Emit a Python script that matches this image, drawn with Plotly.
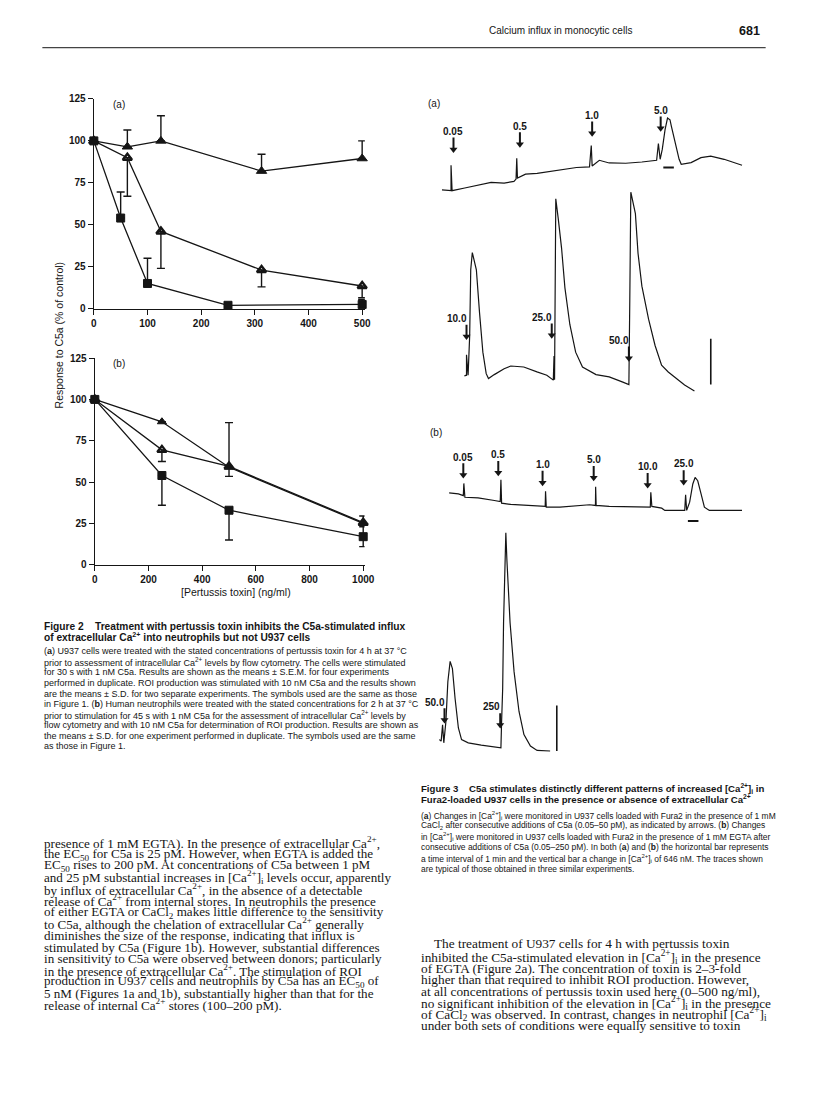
import plotly.graph_objects as go

W, H = 816, 1093
INK = "#151515"
SANS = "Liberation Sans, Arial, sans-serif"
SERIF = "Liberation Serif, Times New Roman, serif"

# ---- Figure 2 (a): U937 cells, pertussis toxin (ng/ml) vs response (% of control)
a_x_tri = [0, 62.5, 125, 312.5, 500]
a_cacl2 = [100, 96.5, 100, 82, 89.5]
a_cacl2_up = [0, 10, 15, 10, 10.5]
a_egta = [100, 90, 46, 23, 13.5]
a_egta_down = [0, 23, 22, 10, 7]
a_x_sq = [0, 50, 100, 250, 500]
a_roi = [100, 54, 15, 2, 2.5]
a_roi_up = [0, 15.5, 15, 0, 3]

# ---- Figure 2 (b): neutrophils
b_x = [0, 250, 500, 1000]
b_cacl2 = [100, 86.5, 59, 25]
b_cacl2_up = [0, 0, 27, 4.5]
b_egta = [100, 69.5, 59.5, 25.5]
b_egta_down = [0, 7, 6, 0]
b_roi = [100, 54, 33, 17]
b_roi_up = [0, 0, 0, 6]
b_roi_down = [0, 18, 18, 6]

# ---- Figure 3 traces: time (s) vs change in [Ca2+]i (nM)
a1_t = [0, 52, 52, 58, 130, 206, 280, 354, 410, 422, 426, 430, 476, 542, 616, 690, 766, 840, 850, 855,
        896, 952, 1046, 1138, 1222, 1232, 1242, 1254, 1270, 1284, 1298, 1306, 1322, 1334, 1350, 1362,
        1418, 1474, 1530, 1606, 1662, 1708]
a1_c = [56, 46, 406, 46, 84, 130, 164, 154, 178, 210, 504, 224, 280, 290, 318, 350, 374, 382, 686, 396,
        476, 438, 434, 452, 476, 714, 490, 630, 910, 1074, 1050, 956, 798, 654, 490, 420,
        444, 514, 536, 490, 444, 406]
a1_add_t = [66, 444, 855, 1245]
a1_add_tip = [588, 662, 816, 886]
a1_add_lbl = ["0.05", "0.5", "1.0", "5.0"]

a2_t = [0, 13, 13, 22, 31, 37, 46, 59, 69, 87, 106, 125, 138, 171, 227, 265, 339, 414, 470, 507,
        511, 514, 517, 521, 535, 554, 573, 601, 634, 673, 750, 825, 899, 937, 942, 948, 974, 989,
        1011, 1049, 1086, 1123, 1161, 1198, 1254, 1310]
a2_c = [252, 262, 550, 262, 822, 1754, 1998, 1872, 1754, 1148, 588, 284, 214, 270, 354, 392, 378, 308, 262, 192,
        532, 196, 1288, 2758, 2478, 2058, 1498, 980, 588, 378, 270, 238, 168, 130, 1288, 2852, 2548, 1988,
        1522, 1054, 682, 402, 308, 238, 122, 38]
a2_add_t = [13, 498, 937]
a2_add_tip = [766, 784, 458]
a2_add_lbl = ["10.0", "25.0", "50.0"]

b1_t = [0, 53, 81, 84, 90, 165, 258, 291, 295, 299, 351, 445, 547, 549, 553, 631, 725, 799, 833, 834,
        837, 911, 1005, 1098, 1145, 1148, 1154, 1210, 1228, 1285, 1341, 1346, 1352, 1369, 1387, 1400,
        1415, 1434, 1453, 1481, 1565, 1667]
b1_c = [318, 304, 280, 452, 256, 248, 210, 196, 504, 172, 154, 140, 126, 340, 116, 116, 130, 150, 140, 406,
        140, 126, 126, 126, 116, 326, 126, 102, 70, 70, 70, 290, 70, 186, 444, 536,
        490, 304, 116, 70, 70, 70]
b1_add_t = [81, 280, 532, 823, 1130, 1335]
b1_add_tip = [528, 560, 420, 490, 388, 430]
b1_add_lbl = ["0.05", "0.5", "1.0", "5.0", "10.0", "25.0"]

b2_t = [0, 11, 19, 26, 38, 49, 62, 75, 90, 109, 127, 165, 239, 314, 351, 355, 361, 366, 371, 379,
        385, 398, 403, 426, 454, 482, 519, 557, 631]
b2_c = [228, 206, 438, 182, 486, 1046, 1334, 1232, 812, 392, 228, 182, 150, 122, 112, 486, 952, 1886, 2492, 3154,
        2772, 2072, 1886, 1186, 626, 298, 136, 74, 66]
b2_add_t = [30, 347]
b2_add_tip = [462, 392]
b2_add_lbl = ["50.0", "250"]

# scale bars: 1 min horizontal, 646 nM vertical
a1_tbar = [1260, 1320]
a1_tbar_c = [374, 374]
a2_cbar_t = [1403, 1403]
a2_cbar = [130, 776]
b1_tbar = [1359, 1419]
b1_tbar_c = [-80, -80]
b2_cbar_t = [669, 669]
b2_cbar = [66, 712]

# ---- page text
header = "Calcium influx in monocytic cells"
page_no = "681"

fig2_head = [
    "<b>Figure 2</b>    <b>Treatment with pertussis toxin inhibits the C5a-stimulated influx</b>",
    "<b>of extracellular Ca<sup>2+</sup> into neutrophils but not U937 cells</b>",
]
fig2_cap = [
    "(<b>a</b>) U937 cells were treated with the stated concentrations of pertussis toxin for 4 h at 37 °C",
    "prior to assessment of intracellular Ca<sup>2+</sup> levels by flow cytometry. The cells were stimulated",
    "for 30 s with 1 nM C5a. Results are shown as the means ± S.E.M. for four experiments",
    "performed in duplicate. ROI production was stimulated with 10 nM C5a and the results shown",
    "are the means ± S.D. for two separate experiments. The symbols used are the same as those",
    "in Figure 1. (<b>b</b>) Human neutrophils were treated with the stated concentrations for 2 h at 37 °C",
    "prior to stimulation for 45 s with 1 nM C5a for the assessment of intracellular Ca<sup>2+</sup> levels by",
    "flow cytometry and with 10 nM C5a for determination of ROI production. Results are shown as",
    "the means ± S.D. for one experiment performed in duplicate. The symbols used are the same",
    "as those in Figure 1.",
]
body_left = [
    "presence of 1 mM EGTA). In the presence of extracellular Ca<sup>2+</sup>,",
    "the EC<sub>50</sub> for C5a is 25 pM. However, when EGTA is added the",
    "EC<sub>50</sub> rises to 200 pM. At concentrations of C5a between 1 pM",
    "and 25 pM substantial increases in [Ca<sup>2+</sup>]<sub>i</sub> levels occur, apparently",
    "by influx of extracellular Ca<sup>2+</sup>, in the absence of a detectable",
    "release of Ca<sup>2+</sup> from internal stores. In neutrophils the presence",
    "of either EGTA or CaCl<sub>2</sub> makes little difference to the sensitivity",
    "to C5a, although the chelation of extracellular Ca<sup>2+</sup> generally",
    "diminishes the size of the response, indicating that influx is",
    "stimulated by C5a (Figure 1b). However, substantial differences",
    "in sensitivity to C5a were observed between donors; particularly",
    "in the presence of extracellular Ca<sup>2+</sup>. The stimulation of ROI",
    "production in U937 cells and neutrophils by C5a has an EC<sub>50</sub> of",
    "5 nM (Figures 1a and 1b), substantially higher than that for the",
    "release of internal Ca<sup>2+</sup> stores (100–200 pM).",
]
fig3_head = [
    "<b>Figure 3</b>    <b>C5a stimulates distinctly different patterns of increased [Ca<sup>2+</sup>]<sub>i</sub> in</b>",
    "<b>Fura2-loaded U937 cells in the presence or absence of extracellular Ca<sup>2+</sup></b>",
]
fig3_cap = [
    "(<b>a</b>) Changes in [Ca<sup>2+</sup>]<sub>i</sub> were monitored in U937 cells loaded with Fura2 in the presence of 1 mM",
    "CaCl<sub>2</sub> after consecutive additions of C5a (0.05–50 pM), as indicated by arrows. (<b>b</b>) Changes",
    "in [Ca<sup>2+</sup>]<sub>i</sub> were monitored in U937 cells loaded with Fura2 in the presence of 1 mM EGTA after",
    "consecutive additions of C5a (0.05–250 pM). In both (<b>a</b>) and (<b>b</b>) the horizontal bar represents",
    "a time interval of 1 min and the vertical bar a change in [Ca<sup>2+</sup>]<sub>i</sub> of 646 nM. The traces shown",
    "are typical of those obtained in three similar experiments.",
]
body_right = [
    "The treatment of U937 cells for 4 h with pertussis toxin",
    "inhibited the C5a-stimulated elevation in [Ca<sup>2+</sup>]<sub>i</sub> in the presence",
    "of EGTA (Figure 2a). The concentration of toxin is 2–3-fold",
    "higher than that required to inhibit ROI production. However,",
    "at all concentrations of pertussis toxin used here (0–500 ng/ml),",
    "no significant inhibition of the elevation in [Ca<sup>2+</sup>]<sub>i</sub> in the presence",
    "of CaCl<sub>2</sub> was observed. In contrast, changes in neutrophil [Ca<sup>2+</sup>]<sub>i</sub>",
    "under both sets of conditions were equally sensitive to toxin",
]


def px(x):
    return x / W


def py(y):
    return 1 - y / H


def series(x, y, xa, ya, symbol, size, up=None, down=None, mlw=1):
    err = None
    if up or down:
        err = dict(type="data", symmetric=False,
                   array=up or [0] * len(y), arrayminus=down or [0] * len(y),
                   color=INK, thickness=1.4, width=4)
    return go.Scatter(x=x, y=y, xaxis=xa, yaxis=ya, mode="lines+markers",
                      line=dict(color=INK, width=1.3),
                      marker=dict(symbol=symbol, size=size, color=INK, line=dict(color=INK, width=mlw)),
                      error_y=err, cliponaxis=False, showlegend=False, hoverinfo="skip")


def ca_line(t, c, xa, ya, w=1.2):
    return go.Scatter(x=t, y=c, xaxis=xa, yaxis=ya, mode="lines",
                      line=dict(color=INK, width=w), cliponaxis=False,
                      showlegend=False, hoverinfo="skip")


NM_PER_PX = 14
S_PER_PX = 5.6


def addition_arrows(ts, tips, xa, ya):
    # shaft + head for each C5a addition, in the trace's own units
    sx, sy = [], []
    for t, tip in zip(ts, tips):
        sx += [t, t, None]
        sy += [tip + 15 * NM_PER_PX, tip + 4 * NM_PER_PX, None]
    shaft = go.Scatter(x=sx, y=sy, xaxis=xa, yaxis=ya, mode="lines",
                       line=dict(color=INK, width=2), cliponaxis=False,
                       showlegend=False, hoverinfo="skip")
    head = go.Scatter(x=ts, y=[tip + 3 * NM_PER_PX for tip in tips], xaxis=xa, yaxis=ya, mode="markers",
                      marker=dict(symbol="triangle-down", size=7, color=INK, line=dict(width=0)),
                      cliponaxis=False, showlegend=False, hoverinfo="skip")
    return [shaft, head]


fig = go.Figure()

# Figure 2 panels
fig.add_trace(series(a_x_tri, a_cacl2, "x", "y", "triangle-up", 9, up=a_cacl2_up))
fig.add_trace(series(a_x_tri, a_egta, "x", "y", "triangle-up-open", 8, down=a_egta_down, mlw=2.4))
fig.add_trace(series(a_x_sq, a_roi, "x", "y", "square", 8, up=a_roi_up))
fig.add_trace(series(b_x, b_cacl2, "x2", "y2", "triangle-up", 8, up=b_cacl2_up))
fig.add_trace(series(b_x, b_egta, "x2", "y2", "triangle-up-open", 8, down=b_egta_down, mlw=2.4))
fig.add_trace(series(b_x, b_roi, "x2", "y2", "square", 8, up=b_roi_up, down=b_roi_down))

# Figure 3 traces
fig.add_trace(ca_line(a1_t, a1_c, "x3", "y3"))
fig.add_trace(ca_line(a2_t, a2_c, "x4", "y4"))
fig.add_trace(ca_line(b1_t, b1_c, "x5", "y5"))
fig.add_trace(ca_line(b2_t, b2_c, "x6", "y6"))
fig.add_trace(ca_line(a1_tbar, a1_tbar_c, "x3", "y3", 2))
fig.add_trace(ca_line(a2_cbar_t, a2_cbar, "x4", "y4", 1.6))
fig.add_trace(ca_line(b1_tbar, b1_tbar_c, "x5", "y5", 2))
fig.add_trace(ca_line(b2_cbar_t, b2_cbar, "x6", "y6", 1.6))
fig.add_traces(addition_arrows(a1_add_t, a1_add_tip, "x3", "y3"))
fig.add_traces(addition_arrows(a2_add_t, a2_add_tip, "x4", "y4"))
fig.add_traces(addition_arrows(b1_add_t, b1_add_tip, "x5", "y5"))
fig.add_traces(addition_arrows(b2_add_t, b2_add_tip, "x6", "y6"))

axis_base = dict(showline=True, linecolor=INK, linewidth=1.4, ticks="outside", ticklen=5,
                 tickwidth=1.3, tickcolor=INK, showgrid=False, zeroline=False,
                 tickfont=dict(family=SANS, size=10, color=INK, weight="bold"))

layout = dict(
    width=W, height=H, margin=dict(l=0, r=0, t=0, b=0), autosize=False,
    paper_bgcolor="white", plot_bgcolor="rgba(0,0,0,0)", showlegend=False,
    xaxis=dict(axis_base, domain=[px(92.3), px(367.7)], range=[0, 505],
               tickvals=[0, 100, 200, 300, 400, 500], anchor="y"),
    yaxis=dict(axis_base, domain=[py(306), py(94)], range=[0, 125],
               tickvals=[0, 25, 50, 75, 100, 125], anchor="x"),
    xaxis2=dict(axis_base, domain=[px(93.3), px(367.4)], range=[0, 1005],
                tickvals=[0, 200, 400, 600, 800, 1000], anchor="y2"),
    yaxis2=dict(axis_base, domain=[py(565), py(356)], range=[0, 125],
                tickvals=[0, 25, 50, 75, 100, 125], anchor="x2"),
)

# invisible axes for the Fura2 traces (left edge, top, bottom, baseline row in page pixels)
trace_boxes = {3: (446, 100, 195, 190), 4: (468.7, 180, 395, 392),
               5: (453.3, 440, 525, 515), 6: (443.3, 520, 760, 758)}
for n, (x0, top, bottom, yref) in trace_boxes.items():
    layout[f"xaxis{n}"] = dict(domain=[px(x0), px(x0 + 320)], range=[0, 320 * S_PER_PX],
                               visible=False, anchor=f"y{n}")
    layout[f"yaxis{n}"] = dict(domain=[py(bottom), py(top)],
                               range=[(yref - bottom) * NM_PER_PX, (yref - top) * NM_PER_PX],
                               visible=False, anchor=f"x{n}")
fig.update_layout(**layout)

ann = []


def text(x, y, s, size, family=SANS, anchor="left", angle=0, weight="normal"):
    ann.append(dict(x=px(x), y=py(y), xref="paper", yref="paper", text=s, showarrow=False,
                    xanchor=anchor, yanchor="middle", textangle=angle,
                    font=dict(family=family, size=size, color=INK, weight=weight)))


def addition_labels(ts, tips, labels, n, label_anchor):
    for t, tip, lbl in zip(ts, tips, labels):
        ann.append(dict(x=t, y=tip, xref=f"x{n}", yref=f"y{n}", text=lbl, showarrow=False,
                        yshift=21, xshift=(2 if label_anchor == "right" else 0),
                        xanchor=label_anchor, yanchor="middle",
                        font=dict(family=SANS, size=10, color=INK, weight="bold")))


addition_labels(a1_add_t, a1_add_tip, a1_add_lbl, 3, "center")
addition_labels(a2_add_t, a2_add_tip, a2_add_lbl, 4, "right")
addition_labels(b1_add_t, b1_add_tip, b1_add_lbl, 5, "center")
addition_labels(b2_add_t, b2_add_tip, b2_add_lbl, 6, "right")

# running head
text(641, 25, header, 10, SANS, anchor="right")
text(746, 25, page_no, 12.5, SANS, weight="bold")

# panel labels and axis titles of Figure 2
text(110, 100, "(a)", 10, SANS)
text(110, 361, "(b)", 10, SANS)
text(57, 333, "Response to C5a (% of control)", 10.5, SANS, anchor="center", angle=-90)
text(237, 592, "[Pertussis toxin] (ng/ml)", 10.5, SANS, anchor="center")
text(430, 99, "(a)", 10, SANS)
text(432, 431, "(b)", 10, SANS)

# captions and body text
for i, s in enumerate(fig2_head):
    text(40, 627 + 11.5 * i, s, 10.2, SANS)
for i, s in enumerate(fig2_cap):
    text(40, 652.5 + 10.67 * i, s, 9.0, SANS)
for i, s in enumerate(body_left):
    text(40, 846 + 11.72 * i, s, 13.1, SERIF)
for i, s in enumerate(fig3_head):
    text(423, 791 + 11 * i, s, 9.6, SANS)
for i, s in enumerate(fig3_cap):
    text(423, 818 + 10.9 * i, s, 8.45, SANS)
for i, s in enumerate(body_right):
    text(436 if i == 0 else 423, 948 if i == 0 else 961.5 + 11.55 * (i - 1), s, 13.3, SERIF)

fig.update_layout(annotations=ann)
fig.add_shape(type="line", xref="paper", yref="paper", x0=px(40), x1=px(775), y0=py(42), y1=py(42),
              line=dict(color="#444", width=1.3))

fig.write_html("out.html", config={"displayModeBar": False},
               post_script="document.body.style.margin='0';document.body.style.overflow='hidden';")
